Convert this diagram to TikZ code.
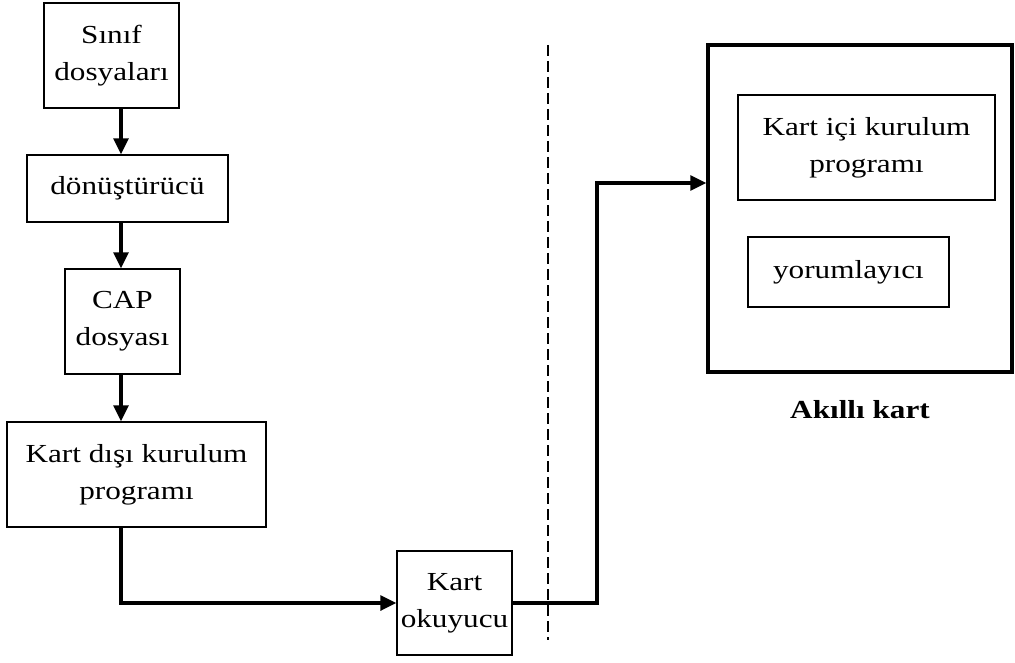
\documentclass[tikz,border=0pt]{standalone}
\usepackage{fontspec}
\setmainfont[FakeStretch=1.2]{Liberation Serif}
\usetikzlibrary{arrows.meta}
\begin{document}
\begin{tikzpicture}[x=1pt,y=-1pt,
  box/.style={draw,line width=1.4pt,align=center,inner sep=0pt,
    font=\fontsize{26}{37}\selectfont},
  flow/.style={line width=3.2pt,-{Triangle[length=16pt,width=15pt]}}]
\useasboundingbox (0,0) rectangle (1015,663);

% off-card chain
\node[box,minimum width=135pt,minimum height=105pt] (b1) at (111.5,55.5) {Sınıf\\dosyaları};
\node[box,minimum width=201pt,minimum height=67pt] (b2) at (127.5,188.5) {dönüştürücü};
\node[box,minimum width=115pt,minimum height=105pt] (b3) at (122.5,321.5) {CAP\\dosyası};
\node[box,minimum width=259pt,minimum height=105pt] (b4) at (136.5,474.5) {Kart dışı kurulum\\programı};
\node[box,minimum width=115pt,minimum height=104pt] (b5) at (454.5,603) {Kart\\okuyucu};

% smart card
\node[draw,line width=3.5pt,minimum width=304pt,minimum height=327pt] (big) at (860,208.5) {};
\node[box,minimum width=257pt,minimum height=105pt] (in1) at (866.5,147.5) {Kart içi kurulum\\programı};
\node[box,minimum width=201pt,minimum height=70pt] (in2) at (848.5,272) {yorumlayıcı};
\node[font=\fontsize{26}{30}\selectfont\bfseries] (lbl) at (860,410) {Akıllı kart};

% helper coordinates
\coordinate (colx) at (121,0);
\coordinate (turn) at (597,183);
\coordinate (dtop) at (548,45);
\coordinate (dbot) at (548,640);

% connectors
\draw[flow] (b1.south -| colx) -- (b2.north -| colx);
\draw[flow] (b2.south -| colx) -- (b3.north -| colx);
\draw[flow] (b3.south -| colx) -- (b4.north -| colx);
\draw[flow] (b4.south -| colx) |- (b5.west);
\draw[flow] (b5.east) -| (turn) -- (turn -| big.west);

% boundary
\draw[line width=1.6pt,dash pattern=on 11pt off 5pt] (dtop) -- (dbot);
\end{tikzpicture}
\end{document}
